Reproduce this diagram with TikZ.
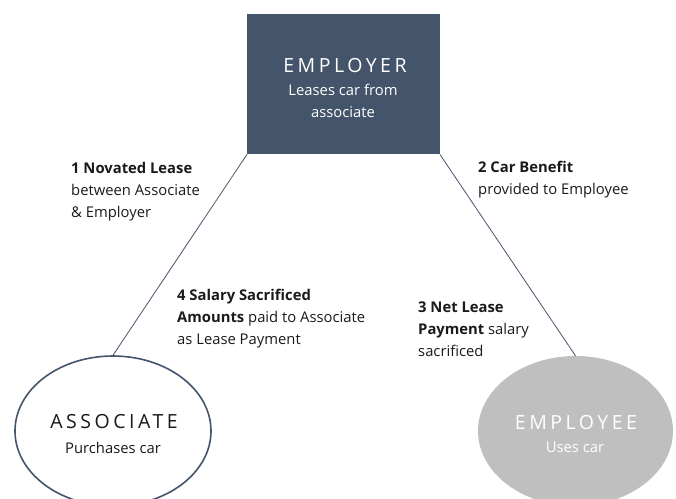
\documentclass[tikz,border=0pt]{standalone}
\usepackage{fontspec}
\setmainfont{Open Sans}
\newfontfamily\titlefont[LetterSpace=18]{Open Sans}
\usetikzlibrary{shapes.geometric}
\definecolor{navy}{HTML}{44546A}
\definecolor{lgray}{HTML}{BFBFBF}
\definecolor{ink}{HTML}{1A1A1A}
\begin{document}
\begin{tikzpicture}[x=1pt,y=-1pt,
  lbl/.style={anchor=base west, align=left, inner sep=0pt, font=\fontsize{14.8}{22}\selectfont, text=ink},
  ttl/.style={anchor=base, inner sep=0pt, font=\titlefont\fontsize{19.5}{24}\selectfont},
  sub/.style={anchor=base, align=center, inner sep=0pt, font=\fontsize{14.8}{22}\selectfont},
  link/.style={draw=navy, line width=0.8pt}]
\useasboundingbox (0,0) rectangle (676,498);
% nodes
\node[rectangle, fill=navy, minimum width=192.5pt, minimum height=140pt, inner sep=0pt, anchor=north west] (emp) at (247,14) {};
\node[ellipse, draw=navy, line width=1.6pt, fill=white, minimum width=196pt, minimum height=150pt, inner sep=0pt] (assoc) at (113,431) {};
\node[ellipse, fill=lgray, minimum width=195pt, minimum height=150pt, inner sep=0pt] (empl) at (575.5,431) {};
% texts inside
\node[ttl, text=white] (empT) at (345,72) {EMPLOYER};
\node[sub, text=white] (empS) at (343,117) {Leases car from\\associate};
\node[ttl, text=ink] (assocT) at (114,428) {ASSOCIATE};
\node[sub, text=ink] (assocS) at (113,453) {Purchases car};
\node[ttl, text=white] (emplT) at (576,429) {EMPLOYEE};
\node[sub, text=white] (emplS) at (575,452) {Uses car};
% connectors
\draw[link] (emp.south west) -- (assoc.north);
\draw[link] (emp.south east) -- (empl.north);
% labels
\node[lbl] (l1) at (71,217) {\textbf{1 Novated Lease}\\between Associate\\\& Employer};
\node[lbl] (l2) at (478,194) {\textbf{2 Car Benefit}\\provided to Employee};
\node[lbl] (l3) at (418,356) {\textbf{3 Net Lease}\\\textbf{Payment} salary\\sacrificed};
\node[lbl] (l4) at (177,344) {\textbf{4 Salary Sacrificed}\\\textbf{Amounts} paid to Associate\\as Lease Payment};
\end{tikzpicture}
\end{document}
